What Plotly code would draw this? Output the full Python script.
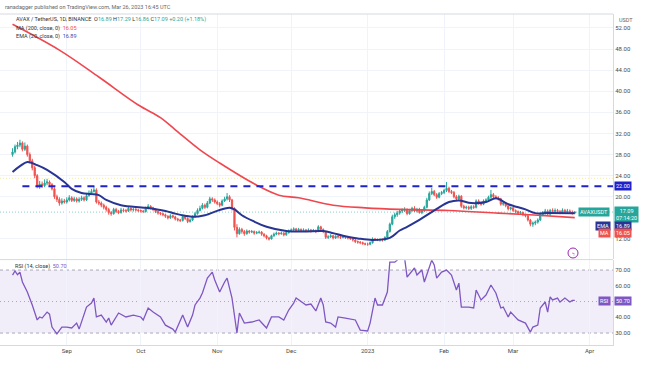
import plotly.graph_objects as go
import pandas as pd

# ---------------- data ----------------
start_date = "2022-08-10"
closes = [
    28.5, 29.5, 29.8, 30.2, 29.0, 29.6, 28.0, 26.8, 25.5, 24.0,
    22.0, 22.4, 22.1, 22.6, 22.8, 22.3, 21.5, 20.0, 19.5, 18.8,
    19.2, 19.0, 19.4, 19.8, 19.3, 19.6, 19.2, 19.5, 19.8, 19.4,
    20.2, 20.6, 21.0, 21.3, 19.0, 18.8, 18.4, 18.0, 17.6, 17.0,
    16.8, 17.6, 17.2, 17.0, 17.5, 17.4, 17.3, 17.8, 17.5, 17.6,
    17.5, 17.4, 17.3, 17.2, 17.8, 18.2, 17.9, 17.6, 17.2, 16.9,
    16.8, 16.6, 16.3, 16.0, 16.4, 16.2, 15.8, 15.6, 15.5, 16.3,
    15.9, 15.3, 15.6, 16.2, 16.8, 17.4, 17.8, 18.4, 18.0, 18.8,
    19.6, 19.4, 19.0, 18.7, 18.4, 19.2, 19.6, 20.0, 19.4, 17.8,
    14.2, 13.0, 13.8, 13.4, 13.0, 13.5, 13.3, 13.4, 13.1, 13.2,
    13.3, 12.9, 12.6, 12.2, 12.0, 12.6, 12.9, 13.1, 13.0, 13.1,
    12.8, 13.2, 13.5, 13.7, 13.9, 13.6, 13.8, 13.6, 13.7, 13.6,
    13.7, 13.5, 13.6, 13.4, 14.3, 13.8, 13.4, 12.3, 12.4, 12.6,
    12.2, 12.5, 12.4, 12.3, 12.4, 12.3, 12.2, 12.1, 11.8, 11.5,
    11.4, 11.3, 11.1, 11.0, 11.0, 11.3, 12.0, 11.9, 11.8, 11.9,
    11.8, 12.3, 13.4, 14.8, 16.2, 16.6, 16.9, 17.3, 17.4, 17.6,
    16.8, 17.4, 17.8, 17.3, 17.6, 17.0, 17.4, 18.0, 19.4, 20.6,
    21.0, 20.4, 19.9, 20.6, 20.8, 21.2, 21.6, 21.0, 20.8, 20.0,
    19.6, 20.1, 18.2, 17.9, 18.0, 17.8, 18.1, 18.0, 19.2, 18.8,
    18.6, 19.2, 19.4, 19.9, 20.4, 20.0, 19.8, 19.6, 18.6, 18.8,
    18.3, 17.7, 17.9, 17.4, 17.2, 16.9, 17.0, 16.6, 16.4, 15.6,
    14.8, 15.0, 15.2, 15.6, 16.6, 16.9, 17.3, 16.7, 17.4, 17.2,
    17.4, 17.2, 17.0, 17.4, 17.1, 17.3, 17.1, 16.89, 17.09,
]
first_open = 28.0
highs = [
    29.2, 29.9, 30.4, 30.8, 30.5, 30.3, 29.9, 28.4, 27.2, 25.9,
    24.3, 23.0, 22.9, 23.3, 23.4, 23.1, 22.6, 21.8, 20.4, 19.9,
    19.7, 19.6, 19.9, 20.3, 20.1, 20.0, 19.9, 19.9, 20.2, 20.1,
    20.6, 21.2, 21.5, 22.0, 21.6, 19.4, 19.1, 18.7, 18.3, 17.9,
    17.3, 17.9, 17.9, 17.5, 17.9, 17.8, 17.7, 18.2, 18.0, 17.9,
    17.9, 17.7, 17.6, 17.5, 18.1, 18.6, 18.4, 18.1, 17.8, 17.4,
    17.1, 17.0, 16.8, 16.5, 16.7, 16.6, 16.4, 16.0, 15.8, 16.6,
    16.5, 16.1, 15.9, 16.5, 17.1, 17.8, 18.3, 18.8, 18.7, 19.2,
    20.0, 19.9, 19.7, 19.3, 19.0, 19.5, 20.0, 20.7, 20.3, 19.6,
    18.0, 14.8, 14.2, 14.1, 13.7, 13.8, 13.7, 13.7, 13.6, 13.5,
    13.6, 13.5, 13.1, 12.8, 12.4, 12.8, 13.2, 13.4, 13.3, 13.4,
    13.3, 13.5, 13.8, 14.0, 14.2, 14.1, 14.1, 14.0, 14.0, 13.9,
    14.0, 13.9, 13.9, 13.8, 14.6, 14.5, 14.0, 13.5, 12.7, 12.9,
    12.8, 12.7, 12.7, 12.6, 12.6, 12.6, 12.5, 12.4, 12.3, 12.0,
    11.7, 11.6, 11.5, 11.3, 11.3, 11.5, 12.3, 12.2, 12.1, 12.1,
    12.1, 12.5, 13.7, 15.1, 16.6, 17.0, 17.3, 17.6, 17.8, 18.0,
    17.8, 17.7, 18.1, 18.2, 17.9, 17.9, 17.6, 18.3, 19.8, 21.0,
    21.7, 21.3, 20.7, 20.9, 21.1, 21.5, 22.8, 21.9, 21.3, 21.1,
    20.3, 20.4, 20.3, 18.5, 18.3, 18.3, 18.4, 18.4, 19.5, 19.5,
    19.1, 19.5, 19.7, 20.2, 21.3, 20.7, 20.3, 20.1, 19.8, 19.1,
    19.0, 18.5, 18.1, 18.1, 17.6, 17.4, 17.3, 17.2, 16.8, 16.6,
    15.8, 15.3, 15.5, 15.9, 16.9, 17.3, 17.7, 17.6, 17.7, 17.8,
    17.8, 17.7, 17.5, 17.8, 17.7, 17.7, 17.6, 17.4, 17.29,
]
lows = [
    27.6, 28.2, 29.0, 29.4, 28.6, 28.7, 27.6, 26.3, 25.0, 23.5,
    21.6, 21.5, 21.7, 21.8, 22.2, 21.9, 21.2, 19.6, 19.0, 18.3,
    18.5, 18.7, 18.7, 19.1, 19.0, 19.0, 18.9, 18.9, 19.2, 19.1,
    19.2, 20.0, 20.3, 20.8, 18.7, 18.4, 18.0, 17.6, 17.2, 16.6,
    16.4, 16.6, 16.9, 16.7, 16.8, 17.1, 17.0, 17.1, 17.2, 17.2,
    17.2, 17.1, 17.0, 16.9, 17.0, 17.6, 17.6, 17.3, 16.9, 16.6,
    16.5, 16.3, 16.0, 15.7, 15.8, 15.9, 15.5, 15.3, 15.2, 15.3,
    15.6, 15.0, 15.1, 15.4, 16.0, 16.6, 17.2, 17.6, 17.7, 17.8,
    18.6, 19.0, 18.7, 18.4, 18.0, 18.2, 19.0, 19.3, 19.0, 17.4,
    13.6, 12.3, 12.8, 13.0, 12.6, 12.8, 13.0, 13.1, 12.8, 12.9,
    13.0, 12.6, 12.3, 11.9, 11.7, 11.9, 12.4, 12.7, 12.7, 12.8,
    12.5, 12.6, 13.0, 13.3, 13.5, 13.3, 13.4, 13.3, 13.4, 13.3,
    13.4, 13.2, 13.3, 13.1, 13.3, 13.6, 13.1, 12.0, 12.0, 12.2,
    11.9, 12.0, 12.1, 12.0, 12.1, 12.0, 11.9, 11.8, 11.5, 11.2,
    11.1, 11.0, 10.9, 10.8, 10.7, 10.8, 11.1, 11.7, 11.6, 11.5,
    11.5, 11.6, 12.1, 13.2, 14.6, 15.8, 16.2, 16.6, 16.9, 17.1,
    16.5, 16.6, 17.1, 17.1, 17.0, 16.8, 16.7, 17.1, 17.8, 19.2,
    20.3, 20.1, 19.6, 19.7, 20.3, 20.5, 20.9, 20.7, 20.5, 19.7,
    19.3, 19.4, 17.9, 17.6, 17.6, 17.5, 17.5, 17.7, 17.8, 18.5,
    18.3, 18.4, 18.9, 19.1, 19.6, 19.7, 19.5, 19.3, 18.3, 18.3,
    18.0, 17.4, 17.4, 17.1, 16.9, 16.6, 16.6, 16.3, 16.1, 15.3,
    14.4, 14.3, 14.6, 14.9, 15.4, 16.3, 16.6, 16.4, 16.4, 16.9,
    16.9, 16.9, 16.7, 16.8, 16.8, 16.9, 16.8, 16.6, 16.86,
]

# indicator lines, read at sampled days (day index from start_date)
ma_day = [0, 19, 35, 51, 60, 66, 76, 84, 99, 108, 116, 130, 143, 157, 177, 197, 213, 228]
ma_val = [52.7, 47.8, 42.7, 37.4, 35.0, 32.7, 28.9, 26.4, 22.2, 20.3, 19.8, 18.4, 17.9, 17.6, 17.4, 16.9, 16.5, 16.05]

ema_day = [0, 3, 6, 10, 14, 21, 24, 28, 32, 35, 38, 44, 54, 62, 66, 70, 73, 78, 84, 88,
           90, 93, 98, 103, 111, 118, 126, 130, 134, 140, 146, 153, 157, 160, 165, 172,
           177, 181, 186, 192, 196, 201, 208, 212, 217, 228]
ema_val = [24.7, 25.8, 26.6, 26.0, 25.1, 22.8, 21.5, 20.7, 20.5, 20.3, 19.4, 18.4, 17.9, 17.3, 16.8, 16.4, 16.2, 16.5, 17.5, 17.9,
           17.6, 16.5, 15.3, 14.3, 13.5, 13.4, 13.5, 13.1, 12.6, 12.1, 11.8, 12.2, 13.6, 14.3, 15.6, 17.7,
           19.0, 19.3, 18.8, 19.0, 19.7, 18.6, 17.6, 16.9, 16.9, 16.89]

rsi_day = [0, 1, 2, 3, 4, 6, 8, 10, 11, 12, 14, 15, 16, 18, 20, 22, 24, 26, 27, 30,
           32, 33, 34, 36, 38, 39, 40, 43, 46, 49, 52, 53, 55, 57, 60, 62, 65, 66, 69, 71,
           73, 74, 76, 77, 79, 81, 82, 84, 86, 87, 89, 91, 92, 94, 97, 100, 103, 105, 108, 110,
           112, 114, 115, 117, 119, 121, 123, 125, 126, 127, 129, 131, 132, 135, 139, 141, 144, 145, 147, 148,
           150, 152, 153, 155, 156, 157, 158, 159, 160, 163, 164, 166, 167, 170, 171, 172, 174, 176, 178, 180,
           181, 182, 185, 187, 188, 190, 192, 194, 196, 198, 199, 201, 202, 205, 208, 210, 211, 213, 214, 216,
           217, 218, 219, 221, 222, 224, 226, 227, 228]
rsi_val = [66.8, 69.4, 67.0, 68.7, 62.4, 56.0, 47.8, 38.3, 40.2, 39.5, 43.3, 42.0, 33.8, 29.4, 33.8, 33.8, 33.2, 36.3, 32.5, 46.5,
           49.0, 52.2, 40.2, 41.4, 37.0, 39.5, 35.0, 42.7, 40.2, 41.4, 40.2, 38.3, 45.9, 43.3, 40.2, 35.0, 32.5, 30.6, 41.4, 33.8,
           41.4, 47.8, 52.2, 55.4, 64.9, 68.7, 63.7, 56.0, 62.4, 64.9, 52.2, 30.0, 42.7, 36.3, 37.0, 38.3, 33.2, 40.2, 40.2, 38.3,
           44.6, 49.0, 52.2, 49.7, 47.8, 48.4, 44.0, 52.2, 47.8, 37.0, 36.3, 33.8, 40.2, 39.5, 38.3, 31.9, 31.3, 36.3, 52.2, 47.8,
           47.8, 56.0, 75.0, 75.0, 76.3, 79.5, 80.5, 77.5, 65.5, 71.3, 66.8, 70.0, 62.4, 76.3, 73.2, 64.9, 68.7, 70.0, 66.8, 57.3,
           61.7, 46.5, 46.5, 45.9, 57.3, 51.0, 54.1, 60.5, 55.4, 45.9, 46.5, 40.2, 43.3, 38.3, 36.3, 30.6, 33.8, 35.0, 45.9, 49.7,
           43.3, 52.9, 51.0, 52.2, 49.7, 52.2, 49.7, 50.7, 50.7]

month_ticks = ["2022-09-01", "2022-10-01", "2022-11-01", "2022-12-01",
               "2023-01-01", "2023-02-01", "2023-03-01", "2023-04-01"]
month_labels = ["Sep", "Oct", "Nov", "Dec", "2023", "Feb", "Mar", "Apr"]
price_ticks = [12, 20, 24, 28, 32, 36, 40, 44, 48, 52]
rsi_ticks = [30, 40, 60, 70]
resistance = 22.0

# ---------------- build ----------------
start = pd.Timestamp(start_date)
dates = pd.date_range(start, periods=len(closes), freq="D")
opens = [first_open] + closes[:-1]
ma_dates = [start + pd.Timedelta(days=d) for d in ma_day]
ema_dates = [start + pd.Timedelta(days=d) for d in ema_day]
rsi_dates = [start + pd.Timedelta(days=d) for d in rsi_day]

UP = "#26a69a"
DN = "#ef5350"
FONT = "Roboto"
TXT = "#4a4a4a"

H, W = 365, 646
T, B, L, R = 14, 20, 0, 33
PH = H - T - B
PW = W - L - R


def py(Y):
    return (H - B - Y) / PH


def px(X):
    return (X - L) / PW


fig = go.Figure()
fig.add_trace(go.Candlestick(
    x=dates, open=opens, high=highs, low=lows, close=closes,
    increasing=dict(line=dict(color=UP, width=1), fillcolor=UP),
    decreasing=dict(line=dict(color=DN, width=1), fillcolor=DN),
    whiskerwidth=0, xaxis="x", yaxis="y", showlegend=False, hoverinfo="skip"))
fig.add_trace(go.Scatter(x=ma_dates, y=ma_val, mode="lines",
                         line=dict(color="#f0474f", width=1.6, shape="spline", smoothing=1),
                         xaxis="x", yaxis="y", showlegend=False, hoverinfo="skip"))
fig.add_trace(go.Scatter(x=ema_dates, y=ema_val, mode="lines",
                         line=dict(color="#283593", width=2, shape="spline", smoothing=1),
                         xaxis="x", yaxis="y", showlegend=False, hoverinfo="skip"))
fig.add_trace(go.Scatter(x=rsi_dates, y=rsi_val, mode="lines",
                         line=dict(color="#7e57c2", width=1.3),
                         xaxis="x2", yaxis="y2", showlegend=False, hoverinfo="skip"))

x_range = ["2022-08-04 22:00", "2023-04-10 12:00"]
grid = "#f0f3fa"
axis_line = "#d6d9e0"

fig.update_layout(
    width=W, height=H,
    margin=dict(l=L, r=R, t=T, b=B),
    paper_bgcolor="white", plot_bgcolor="white",
    font=dict(family=FONT, size=6, color=TXT),
    showlegend=False,
    xaxis=dict(domain=[0, 1], range=x_range, anchor="y", type="date",
               tickvals=month_ticks, showticklabels=False, showgrid=True,
               gridcolor=grid, gridwidth=1, zeroline=False, rangeslider=dict(visible=False),
               fixedrange=True),
    xaxis2=dict(domain=[0, 1], range=x_range, anchor="y2", type="date", matches="x",
                tickvals=month_ticks, ticktext=month_labels, showgrid=True,
                gridcolor=grid, zeroline=False, ticks="", showline=True, linecolor=axis_line,
                tickfont=dict(size=6, color=TXT, family=FONT)),
    yaxis=dict(domain=[0.26, 1], range=[8.21, 54.65], side="right", anchor="x",
               tickvals=price_ticks, ticktext=[f"{v:.2f}" for v in price_ticks],
               showgrid=True, gridcolor=grid, zeroline=False, showline=True,
               linecolor=axis_line, ticks="", tickfont=dict(size=6, color=TXT, family=FONT)),
    yaxis2=dict(domain=[0, 0.256], range=[22.4, 76.2], side="right", anchor="x2",
                tickvals=rsi_ticks, ticktext=[f"{v:.2f}" for v in rsi_ticks],
                showgrid=False, zeroline=False, showline=True, linecolor=axis_line,
                ticks="", tickfont=dict(size=6, color=TXT, family=FONT)),
)

shapes = []
# RSI band and levels
shapes.append(dict(type="rect", xref="x2 domain", yref="y2", x0=0, x1=1, y0=30, y1=70,
                   fillcolor="rgba(126,87,194,0.10)", line=dict(width=0), layer="below"))
for lv, dsh in [(70, "3px,3px"), (30, "3px,3px"), (50, "1px,3px")]:
    shapes.append(dict(type="line", xref="x2 domain", yref="y2", x0=0, x1=1, y0=lv, y1=lv,
                       line=dict(color="#a9a9b8", width=1, dash=dsh), layer="below"))
# pane separators / top border
shapes.append(dict(type="line", xref="paper", yref="paper", x0=0, x1=1, y0=0.258, y1=0.258,
                   line=dict(color=axis_line, width=1)))
shapes.append(dict(type="line", xref="paper", yref="paper", x0=0, x1=1, y0=1, y1=1,
                   line=dict(color=axis_line, width=1)))
# faint yellow level and current price dotted line
shapes.append(dict(type="line", xref="x domain", yref="y", x0=0, x1=1, y0=23.5, y1=23.5,
                   line=dict(color="rgba(240,220,90,0.55)", width=1, dash="1px,2px"), layer="below"))
shapes.append(dict(type="line", xref="x domain", yref="y", x0=0, x1=1, y0=closes[-1], y1=closes[-1],
                   line=dict(color="rgba(38,166,154,0.55)", width=1, dash="1px,2px"), layer="below"))
# resistance dashed line
shapes.append(dict(type="line", xref="x", yref="y", x0="2022-08-14", x1=x_range[1],
                   y0=resistance, y1=resistance,
                   line=dict(color="#1f22c8", width=2, dash="7px,6px")))
# event marker circle
shapes.append(dict(type="circle", xref="paper", yref="paper",
                   x0=px(568), x1=px(578), y0=py(258), y1=py(248),
                   line=dict(color="#9c27b0", width=1)))
fig.update_layout(shapes=shapes)

ann = []


def text(x, y, s, size=5.5, color=TXT, xanchor="left"):
    ann.append(dict(xref="paper", yref="paper", x=px(x), y=py(y), text=s, showarrow=False,
                    xanchor=xanchor, yanchor="middle", font=dict(size=size, color=color, family=FONT)))


def box(x, y, s, bg, xanchor="left", size=5.5):
    ann.append(dict(xref="paper", yref="paper", x=px(x), y=py(y), text=s, showarrow=False,
                    xanchor=xanchor, yanchor="middle", bgcolor=bg, borderpad=1,
                    font=dict(size=size, color="white", family=FONT)))


text(3, 7, "ranadagger published on TradingView.com, Mar 26, 2023 16:45 UTC", color="#666")
g = UP
text(14, 20, "AVAX / TetherUS, 1D, BINANCE  "
     f"O<span style='color:{g}'>16.89</span> H<span style='color:{g}'>17.29</span> "
     f"L<span style='color:{g}'>16.86</span> C<span style='color:{g}'>17.09</span> "
     f"<span style='color:{g}'>+0.20 (+1.18%)</span>", color="#333")
text(14, 29, "MA (200, close, 0)  <span style='color:#ef5350'>16.05</span>", color="#333")
text(14, 37, "EMA (20, close, 0)  <span style='color:#3949ab'>16.89</span>", color="#333")
text(13, 266, "RSI (14, close)  <span style='color:#7e57c2'>50.70</span>", color="#333")

box(614, 186, "22.00", "#1f22c8")
box(610, 212, "AVAXUSDT", UP, xanchor="right")
box(614, 215, "17.09<br>07:14:20", UP)
box(611, 226, "EMA", "#283593", xanchor="right")
box(614, 226, "16.89", "#283593")
box(611, 232.5, "MA", "#ef5350", xanchor="right")
box(614, 232.5, "16.05", "#ef5350")
box(611, 301, "RSI", "#7e57c2", xanchor="right")
box(614, 301, "50.70", "#7e57c2")
text(573, 253, "ϟ", size=6, color="#9c27b0", xanchor="center")
text(617, 20, "USDT", size=5.5, color="#666")

fig.update_layout(annotations=ann)
fig.write_html("out.html", config={"displayModeBar": False, "staticPlot": True},
               post_script="document.body.style.margin='0';")
